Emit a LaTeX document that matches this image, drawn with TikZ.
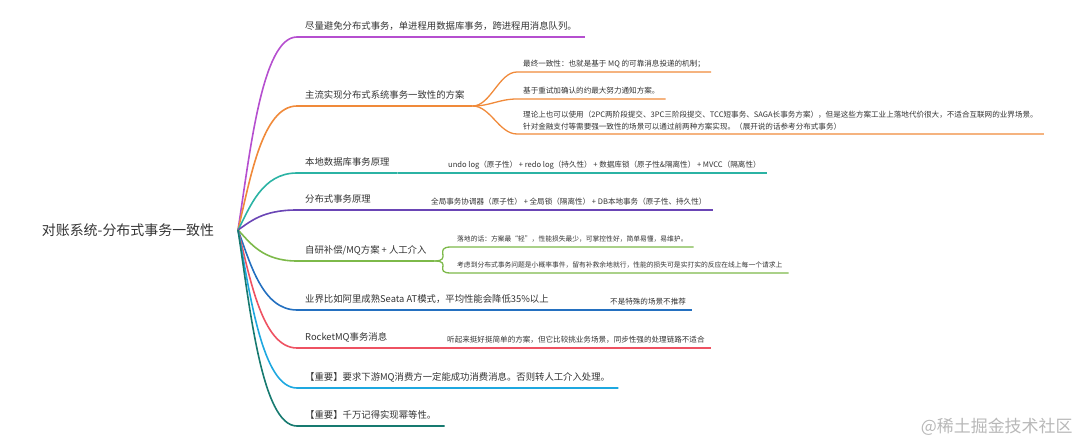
\documentclass[tikz,border=0pt]{standalone}
\usepackage{fontspec}
\newfontfamily\cjk{Noto Sans CJK SC}
\usepackage{tikz}
\usetikzlibrary{calc}
\definecolor{txt}{HTML}{333333}
\definecolor{cPurple}{HTML}{B54FCF}
\definecolor{cOrange}{HTML}{F08A3A}
\definecolor{cTeal}{HTML}{2BB3A4}
\definecolor{cViolet}{HTML}{6A45B5}
\definecolor{cGreen}{HTML}{7DB94A}
\definecolor{cBlue}{HTML}{2470C0}
\definecolor{cRed}{HTML}{EE5262}
\definecolor{cSky}{HTML}{1EA8E0}
\definecolor{cDeep}{HTML}{177A70}

\begin{document}
\begin{tikzpicture}[x=1bp, y=-1bp,
  every node/.style={text=txt},
  topic/.style={anchor=south west, inner xsep=8bp, inner ysep=5bp, text height=8bp, text depth=2bp,
    font=\cjk\fontsize{9.4}{12}\selectfont},
  leaf/.style={anchor=south west, inner xsep=6bp, inner ysep=4bp, text height=6bp, text depth=1.5bp,
    font=\cjk\fontsize{7.6}{12}\selectfont},
  smallleaf/.style={leaf, font=\cjk\fontsize{6.8}{11}\selectfont},
  branch/.style={line width=1.6bp},
  twig/.style={line width=1.3bp}]
\useasboundingbox (0,0) rectangle (1080,445);

\node[font=\cjk\fontsize{14}{17}\selectfont] (root) at (128,230) {对账系统-分布式事务一致性};
\coordinate (hub) at (238,230);

\node[topic] (t1) at (297,37) {尽量避免分布式事务，单进程用数据库事务，跨进程用消息队列。};
\node[topic] (t2) at (297,106) {主流实现分布式系统事务一致性的方案};
\node[topic] (t3) at (297,173) {本地数据库事务原理};
\node[topic] (t4) at (297,210) {分布式事务原理};
\node[topic] (t5) at (297,261) {自研补偿/MQ方案 + 人工介入};
\node[topic] (t6) at (297,310) {业界比如阿里成熟Seata AT模式，平均性能会降低35\%以上};
\node[topic] (t7) at (297,348) {RocketMQ事务消息};
\node[topic] (t8) at (297,388) {【重要】要求下游MQ消费方一定能成功消费消息。否则转人工介入处理。};
\node[topic] (t9) at (297,426) {【重要】千万记得实现幂等性。};

\node[leaf] (c21) at (517,72) {最终一致性：也就是基于 MQ 的可靠消息投递的机制；};
\node[leaf] (c22) at (517,99) {基于重试加确认的约最大努力通知方案。};
\node[leaf, align=left, text height={}, text depth={}] (c23) at (517,134)
  {理论上也可以使用（2PC两阶段提交、3PC三阶段提交、TCC短事务、SAGA长事务方案），但是这些方案工业上落地代价很大，不适合互联网的业界场景。\\
   针对金融支付等需要强一致性的场景可以通过前两种方案实现。（展开说的话参考分布式事务）};
\node[leaf] (c31) at (442,173) {undo log（原子性） + redo log（持久性） + 数据库锁（原子性\&隔离性） + MVCC（隔离性）};
\node[leaf] (c41) at (425,210) {全局事务协调器（原子性） + 全局锁（隔离性） + DB本地事务（原子性、持久性）};
\node[smallleaf] (c51) at (451,247) {落地的话：方案最“轻”，性能损失最少，可掌控性好，简单易懂，易维护。};
\node[smallleaf] (c52) at (451,273) {考虑到分布式事务问题是小概率事件，留有补救余地就行，性能的损失可是实打实的反应在线上每一个请求上};
\node[leaf] (c61) at (604,310) {不是特殊的场景不推荐};
\node[leaf] (c71) at (441,348) {听起来挺好挺简单的方案，但它比较挑业务场景，同步性强的处理链路不适合};

\foreach \t/\c in {t1/cPurple,t2/cOrange,t3/cTeal,t4/cViolet,t5/cGreen,t6/cBlue,t7/cRed,t8/cSky,t9/cDeep}
  \draw[branch,\c] (hub) .. controls ($(hub)!0.4!(hub|-\t.south west)+(12,0)$) and ($(hub|-\t.south west)+(24,0)$)
    .. (\t.south west) -- (\t.south east);

\foreach \p/\k/\c in {t2/c21/cOrange,t2/c22/cOrange,t2/c23/cOrange,t3/c31/cTeal,t4/c41/cViolet,
    t5/c51/cGreen,t5/c52/cGreen,t6/c61/cBlue,t7/c71/cRed}
  \draw[twig,\c] (\p.south east) .. controls +(18,0) and +(-18,0) .. (\k.south west) -- (\k.south east);

\node[anchor=east, text=black!28, font=\cjk\fontsize{17}{19}\selectfont] (mark) at (1076,427) {@稀土掘金技术社区};
\end{tikzpicture}
\end{document}
